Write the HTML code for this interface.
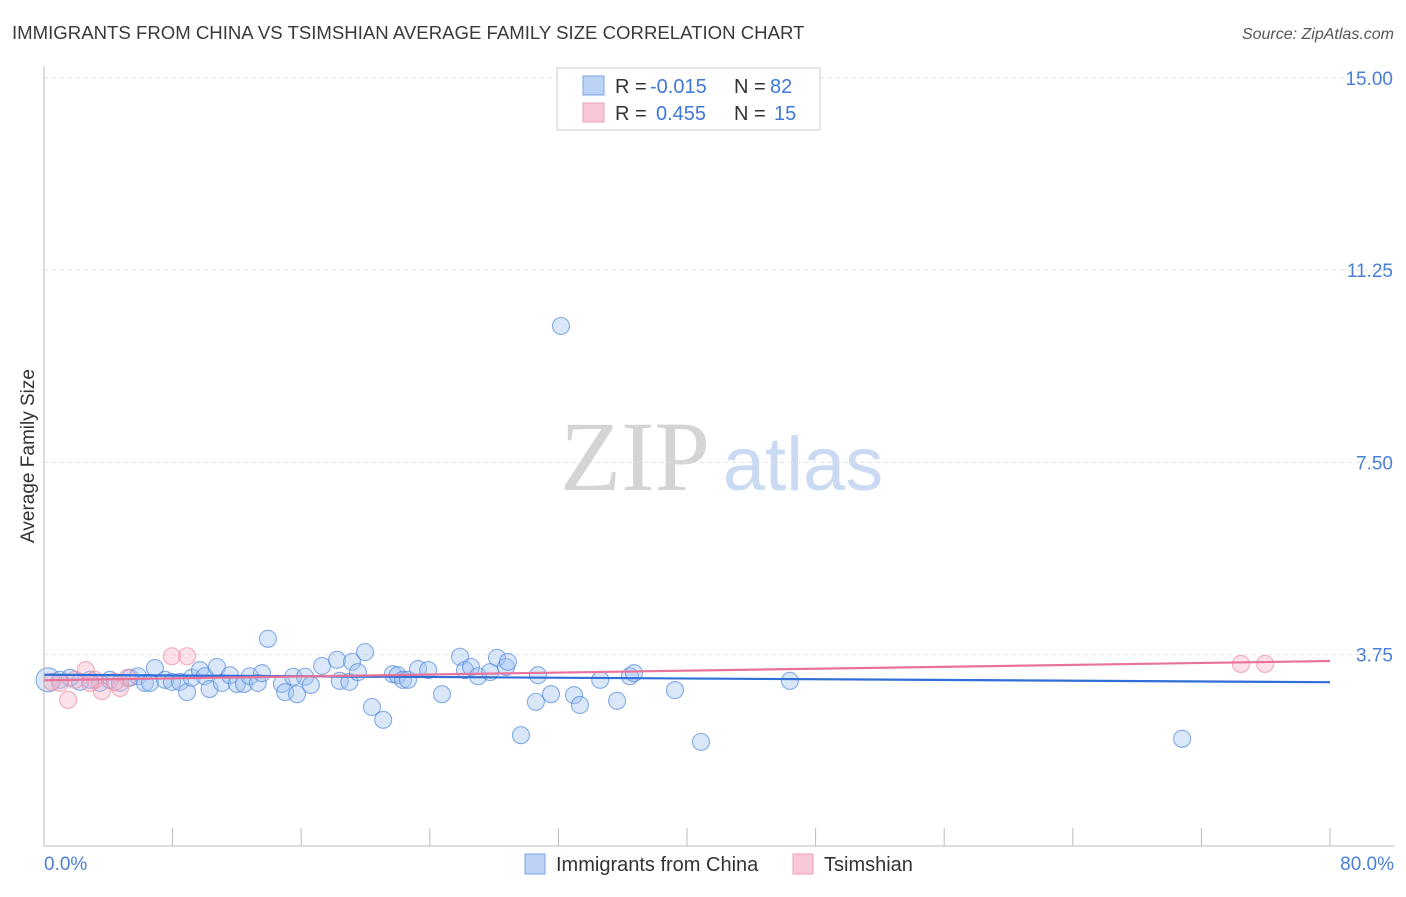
<!DOCTYPE html>
<html><head><meta charset="utf-8"><style>
body{margin:0;background:#fff;font-family:"Liberation Sans",sans-serif;}
</style></head><body>
<svg id="chart" width="1406" height="892" font-family="Liberation Sans, sans-serif">
<text x="12" y="39" font-size="18.6" fill="#3a3a3a">IMMIGRANTS FROM CHINA VS TSIMSHIAN AVERAGE FAMILY SIZE CORRELATION CHART</text>
<text x="1394" y="39" font-size="16" fill="#555" font-style="italic" text-anchor="end">Source: ZipAtlas.com</text>
<text x="635" y="490" font-size="100" fill="#d4d4d4" style="font-family:'Liberation Serif',serif" text-anchor="middle">ZIP</text>
<text x="803" y="490" font-size="76" fill="#c9daf2" text-anchor="middle">atlas</text>
<text transform="translate(34,456) rotate(-90)" font-size="19" fill="#333" text-anchor="middle">Average Family Size</text>
<g id="grid"></g><g id="pts"></g><g id="lines"></g>
<line x1="44" y1="66" x2="44" y2="846" stroke="#bbb"/>
<line x1="44" y1="846" x2="1394" y2="846" stroke="#bbb"/>
<text x="44" y="870" font-size="19" fill="#4a7fd6">0.0%</text>
<text x="1394" y="870" font-size="19" fill="#4a7fd6" text-anchor="end">80.0%</text>
<g font-size="20">
<rect x="557" y="68" width="263" height="62" fill="#fff" stroke="#ccc"/>
<rect x="583" y="76" width="21" height="19" fill="#bcd3f5" stroke="#7aa6e6"/>
<rect x="583" y="103" width="21" height="19" fill="#f9c8d6" stroke="#eea0b6"/>
<text x="615" y="93" fill="#333">R =</text>
<text x="650" y="93" fill="#3f78d6">-0.015</text>
<text x="734" y="93" fill="#333">N =</text>
<text x="770" y="93" fill="#3f78d6">82</text>
<text x="615" y="120" fill="#333">R =</text>
<text x="656" y="120" fill="#3f78d6">0.455</text>
<text x="734" y="120" fill="#333">N =</text>
<text x="774" y="120" fill="#3f78d6">15</text>
</g>
<g>
<rect x="525" y="854" width="20" height="20" fill="#bcd3f5" stroke="#7aa6e6"/>
<text x="556" y="871" font-size="20" fill="#333">Immigrants from China</text>
<rect x="793" y="854" width="20" height="20" fill="#f9c8d6" stroke="#eea0b6"/>
<text x="824" y="871" font-size="20" fill="#333">Tsimshian</text>
</g>
</svg>
<script>
const yTicks=[3.75,7.5,11.25,15];
const yTickLabels=["3.75","7.50","11.25","15.00"];
const chinaX=[0.25,1.0,1.62,2.24,2.86,3.48,4.1,4.73,5.35,5.85,6.28,6.59,6.9,7.53,7.96,8.46,8.9,9.2,9.7,10.0,10.3,10.76,11.07,11.57,12.0,12.44,12.8,13.3,13.56,13.93,14.8,15.0,15.5,15.74,16.24,16.6,17.3,18.23,18.4,19.0,19.16,19.53,19.97,20.4,21.1,21.7,22.0,22.33,22.64,23.27,23.9,24.76,25.88,26.19,26.56,27.0,27.75,28.18,28.74,28.86,29.67,30.6,30.73,31.54,32.16,32.97,33.34,34.6,35.65,36.45,36.7,39.25,40.87,46.4,70.8];
const chinaY=[3.26,3.26,3.30,3.22,3.26,3.20,3.26,3.20,3.30,3.33,3.20,3.20,3.49,3.26,3.22,3.22,3.02,3.30,3.45,3.33,3.08,3.51,3.20,3.35,3.18,3.18,3.33,3.20,3.39,4.06,3.18,3.02,3.32,2.98,3.32,3.16,3.53,3.65,3.24,3.22,3.61,3.41,3.80,2.73,2.48,3.37,3.35,3.26,3.26,3.47,3.45,2.98,3.71,3.45,3.51,3.33,3.41,3.69,3.51,3.61,2.18,2.83,3.35,2.98,10.16,2.96,2.77,3.26,2.85,3.33,3.39,3.06,2.05,3.24,2.11];
const tsimX=[0.5,1.5,2.6,3.17,3.6,4.73,5.2,7.96,8.9,74.46,75.96,1.0,2.86,4.4,1.93];
const tsimY=[3.22,2.87,3.45,3.26,3.04,3.10,3.30,3.72,3.72,3.57,3.57,3.20,3.20,3.22,3.26];
const NS="http://www.w3.org/2000/svg";
const X=p=>44+p*(1286/80), Y=v=>847-v*(192.3/3.75);
const grid=document.getElementById('grid');
yTicks.forEach((t,i)=>{
 const l=document.createElementNS(NS,'line');
 
 
 l.setAttribute('x1',44);l.setAttribute('x2',1394);l.setAttribute('y1',Y(t));l.setAttribute('y2',Y(t));
 l.setAttribute('stroke','#e0e0e0');l.setAttribute('stroke-dasharray','4,4');grid.appendChild(l);
 const tx=document.createElementNS(NS,'text');
 
 
 tx.setAttribute('x',1393);tx.setAttribute('y',Y(t)+7);tx.setAttribute('text-anchor','end');
 tx.setAttribute('font-size','19');tx.setAttribute('fill','#4a7fd6');tx.textContent=yTickLabels[i];grid.appendChild(tx);
});
for(let i=0;i<=10;i++){
 const l=document.createElementNS(NS,'line');
 
 
 l.setAttribute('x1',X(i*8));l.setAttribute('x2',X(i*8));l.setAttribute('y1',828);l.setAttribute('y2',846);
 l.setAttribute('stroke','#bbb');grid.appendChild(l);
}
const pts=document.getElementById('pts');
function dots(xs,ys,fill,stroke,name){
 xs.forEach((x,i)=>{
  const c=document.createElementNS(NS,'circle');
  
  
  c.setAttribute('cx',X(x));c.setAttribute('cy',Y(ys[i]));c.setAttribute('r',i===0&&name==='china-point'?12:8.5);
  c.setAttribute('fill',fill);c.setAttribute('stroke',stroke);c.setAttribute('stroke-width','1.1');
  pts.appendChild(c);
 });
}
dots(chinaX,chinaY,'rgba(160,196,240,0.4)','rgba(70,130,220,0.65)','china-point');
dots(tsimX,tsimY,'rgba(248,180,200,0.4)','rgba(235,130,160,0.65)','tsimshian-point');
function reg(xs,ys){const n=xs.length;let mx=0,my=0;xs.forEach((x,i)=>{mx+=x;my+=ys[i];});mx/=n;my/=n;let a=0,b=0;xs.forEach((x,i)=>{a+=(x-mx)*(ys[i]-my);b+=(x-mx)**2;});const s=a/b;return [my-s*mx,s];}
const lines=document.getElementById('lines');
function trend(xs,ys,col,name){
 const [b,s]=reg(xs,ys);
 const l=document.createElementNS(NS,'line');
 
 
 l.setAttribute('x1',X(0));l.setAttribute('x2',X(80));l.setAttribute('y1',Y(b));l.setAttribute('y2',Y(b+s*80));
 l.setAttribute('stroke',col);l.setAttribute('stroke-width','2.2');lines.appendChild(l);
}
trend(chinaX,chinaY,'#2f6fd6','china-trend-line');
trend(tsimX,tsimY,'#e8729a','tsimshian-trend-line');
</script>
</body></html>
